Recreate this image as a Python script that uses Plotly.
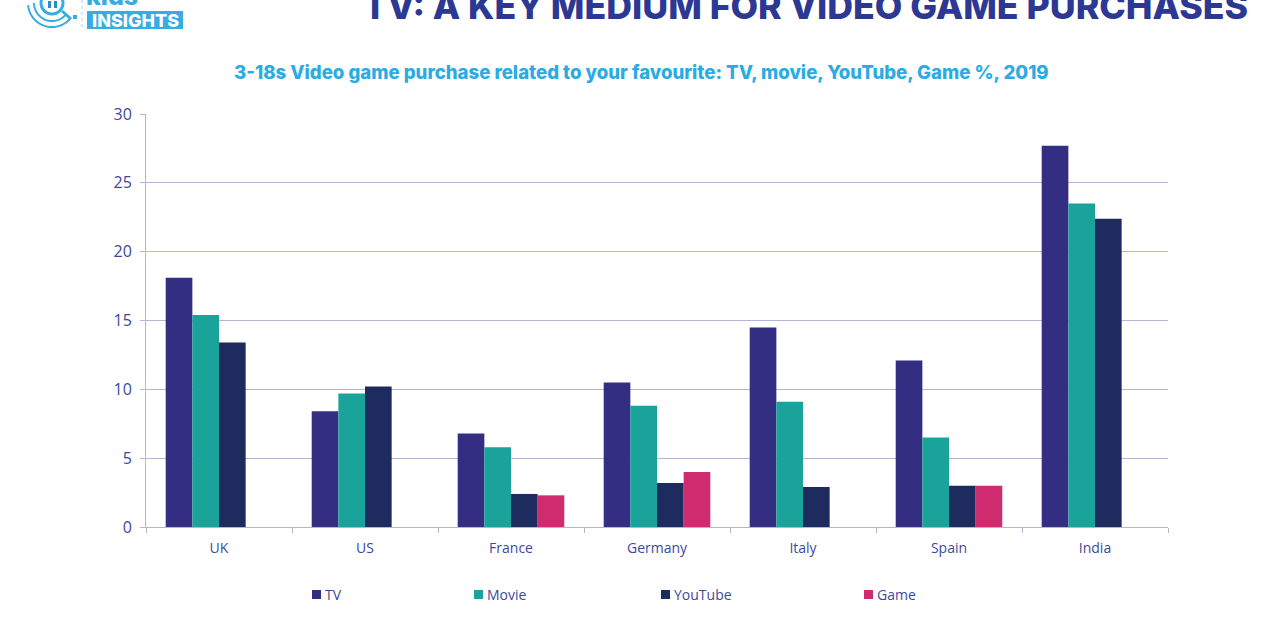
import numpy as np
import plotly.graph_objects as go

# Valores
countries = ["UK", "US", "France", "Germany", "Italy", "Spain", "India"]
tv = [18.1, 8.4, 6.8, 10.5, 14.5, 12.1, 27.7]
movie = [15.4, 9.7, 5.8, 8.8, 9.1, 6.5, 23.5]
youtube = [13.4, 10.2, 2.4, 3.2, 2.9, 3.0, 22.4]
game = [None, None, 2.3, 4.0, None, 3.0, None]

series_names = ["TV", "Movie", "YouTube", "Game"]
series_values = [tv, movie, youtube, game]
series_colors = ["#332e82", "#1aa39a", "#1e2b5e", "#cf2c6f"]
y_ticks = [0, 5, 10, 15, 20, 25, 30]

TITLE = "TV: A KEY MEDIUM FOR VIDEO GAME PURCHASES"
SUBTITLE = "3-18s Video game purchase related to your favourite: TV, movie, YouTube, Game %, 2019"

FONT = "Open Sans"
TEXT_COLOR = "#3b4a9c"
AXIS_COLOR = "#b5b5d8"
BLUE = "#35ace4"
W, H = 1280, 640
LEFT, RIGHT, TOP, BOTTOM = 146, 1168, 114, 527

# Legenda manual: os espaços entre os itens são desiguais no original
legend_x = [312, 474, 661, 864]


# "paper" vai de 0 a 1 dentro da área do gráfico, então converte de pixels
def px(x):
    return (x - LEFT) / (RIGHT - LEFT)


def py(y):
    return (BOTTOM - y) / (BOTTOM - TOP)


def label(x, y, text, family, size, color, anchor="center", weight=None):
    font = dict(family=family, size=size, color=color)
    if weight:
        font["weight"] = weight
    return dict(xref="paper", yref="paper", x=px(x), y=py(y), text=text, showarrow=False, xanchor=anchor,
                yanchor="middle", font=font)


def arc_path(cx, cy, r, a0, a1):
    pts = [(cx + r * np.cos(a), cy + r * np.sin(a)) for a in np.radians(np.linspace(a0, a1, 40))]
    return "M " + " L ".join(f"{px(x):.5f},{py(y):.5f}" for x, y in pts)


def rect(x0, x1, y0, y1, color):
    return dict(type="rect", xref="paper", yref="paper", x0=px(x0), x1=px(x1), y0=py(y1), y1=py(y0),
                fillcolor=color, line_width=0)


fig = go.Figure()
for name, values, color in zip(series_names, series_values, series_colors):
    fig.add_trace(go.Bar(x=countries, y=values, name=name, marker_color=color, marker_line_width=0))

annotations = [
    label(805, 6, TITLE, "Inter", 35.7, "#2c3893", weight=800),
    label(641, 72.5, SUBTITLE, "Inter", 18.6, "#2aabe4", weight=800),
    label(112, -4, "kids", "Inter", 25, BLUE, weight=800),
    label(135, 20, "INSIGHTS", "Inter", 18, "white", weight=800),
]

shapes = [
    # logo: lupa e caixa do INSIGHTS
    rect(87, 183, 11, 29, BLUE),
    dict(type="line", xref="paper", yref="paper", x0=px(82), x1=px(82), y0=py(0), y1=py(29),
         line=dict(color="#a5d8f3", width=1, dash="dot")),
    dict(type="path", xref="paper", yref="paper", path=arc_path(52, 3, 11, 0, 360), line=dict(color=BLUE, width=3)),
    dict(type="path", xref="paper", yref="paper", path=arc_path(52, 3, 18, 40, 180), line=dict(color=BLUE, width=2)),
    dict(type="path", xref="paper", yref="paper", path=arc_path(52, 3, 24, 40, 175), line=dict(color=BLUE, width=2)),
    dict(type="line", xref="paper", yref="paper", x0=px(62), x1=px(71), y0=py(11), y1=py(19),
         line=dict(color=BLUE, width=3)),
    rect(73, 77, 15, 19, BLUE),
    rect(48, 51, 1, 8, "#2a8fc4"),
    rect(54, 57, 1, 8, "#2a8fc4"),
]

for name, x, color in zip(series_names, legend_x, series_colors):
    shapes.append(rect(x, x + 9, 590, 599, color))
    annotations.append(label(x + 11, 594, name, FONT, 14, TEXT_COLOR, anchor="left"))

fig.update_layout(
    width=W,
    height=H,
    margin=dict(l=LEFT, r=W - RIGHT, t=TOP, b=H - BOTTOM, autoexpand=False),
    paper_bgcolor="white",
    plot_bgcolor="white",
    barmode="group",
    bargap=0.27,
    bargroupgap=0,
    showlegend=False,
    font=dict(family=FONT, size=14, color=TEXT_COLOR),
    annotations=annotations,
    shapes=shapes,
)
fig.update_xaxes(
    tickson="boundaries", ticks="outside", ticklen=5, tickcolor=AXIS_COLOR, showline=True, linecolor=AXIS_COLOR,
    linewidth=1, showgrid=False, tickfont=dict(size=14, color=TEXT_COLOR), ticklabelstandoff=8,
)
fig.update_yaxes(
    range=[0, 30], tickvals=y_ticks, ticks="outside", ticklen=5, tickcolor=AXIS_COLOR, showline=True,
    linecolor=AXIS_COLOR, linewidth=1, gridcolor=AXIS_COLOR, gridwidth=1, zeroline=False,
    tickfont=dict(size=16, color=TEXT_COLOR), ticklabelstandoff=5,
)

# tira a margem padrão do body para o gráfico começar no canto da página
fig.write_html("out.html", config={"displayModeBar": False}, post_script="document.body.style.margin = '0';")
